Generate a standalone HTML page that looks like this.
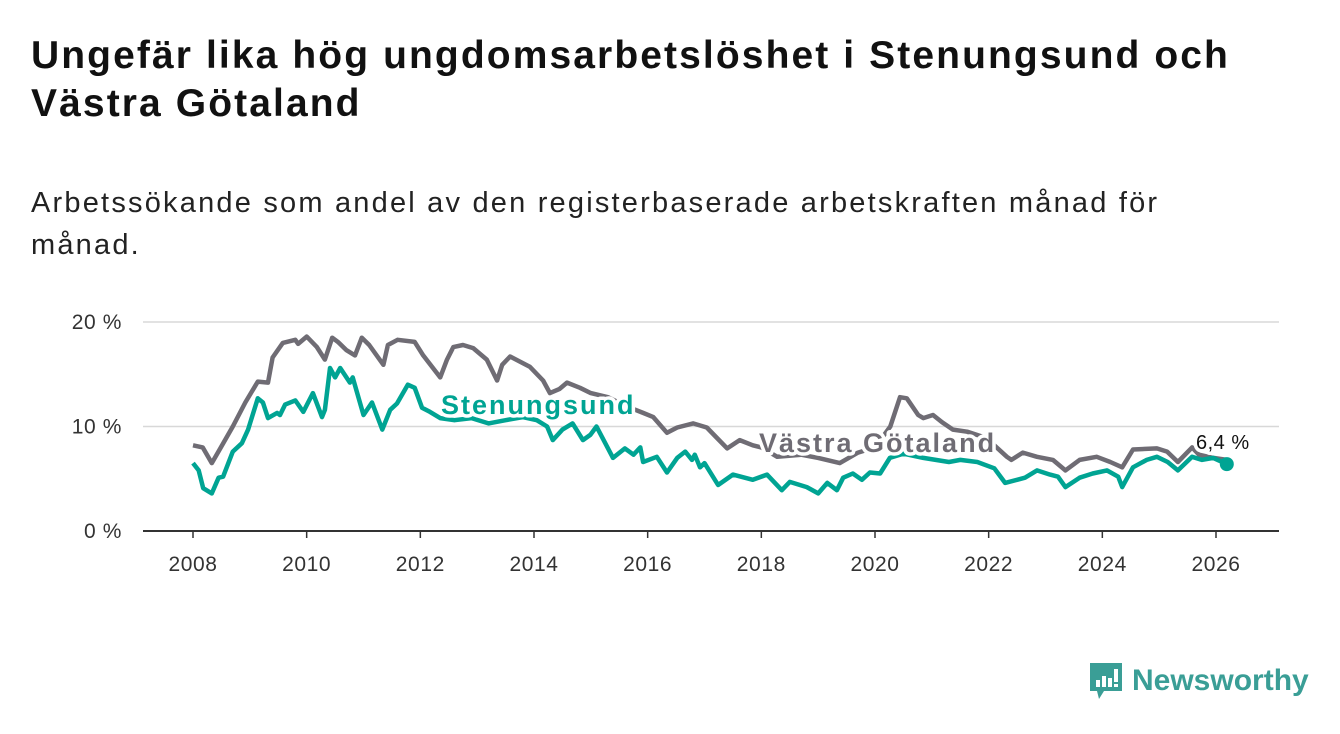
<!DOCTYPE html>
<html><head><meta charset="utf-8">
<style>
body{margin:0;width:1340px;height:734px;background:#fff;font-family:"Liberation Sans","DejaVu Sans",sans-serif;overflow:hidden;position:relative}
#title{position:absolute;left:31px;top:32px;font-size:39px;letter-spacing:2.1px;font-weight:bold;color:#111;line-height:48px;width:1300px;margin:0;white-space:nowrap}
#subtitle{position:absolute;left:31px;top:182px;font-size:29px;letter-spacing:2.2px;color:#222;line-height:42px;width:1300px;margin:0;white-space:nowrap}
svg{position:absolute;left:0;top:0}
#logo{position:absolute;left:1088px;top:661px;display:flex;align-items:center}
#logo span{font-size:30px;font-weight:bold;color:#3a9e96;margin-left:8px}
</style></head><body>
<h1 id="title">Ungefär lika hög ungdomsarbetslöshet i Stenungsund och<br>Västra Götaland</h1>
<p id="subtitle">Arbetssökande som andel av den registerbaserade arbetskraften månad för<br>månad.</p>
<svg id="chart" width="1340" height="734"></svg>
<div id="logo">
<svg width="36" height="40" style="position:static"><path d="M2 2h32v28H16l-5 8-2-8H2z" fill="#3a9e96"/><rect x="8" y="19" width="4" height="7" fill="#fff"/><rect x="14" y="15" width="4" height="11" fill="#fff"/><rect x="20" y="17" width="4" height="9" fill="#fff"/><rect x="26" y="8" width="4" height="13" fill="#fff"/><rect x="26" y="23" width="4" height="3" fill="#fff"/></svg>
<span>Newsworthy</span></div>
<script>
const yTicks=[0,10,20];
const xTicks=[2008,2010,2012,2014,2016,2018,2020,2022,2024,2026];
const vgDates=[2008.0,2008.17,2008.33,2008.48,2008.7,2008.92,2009.14,2009.32,2009.4,2009.58,2009.8,2009.85,2010.0,2010.18,2010.32,2010.45,2010.55,2010.7,2010.85,2010.97,2011.1,2011.35,2011.43,2011.6,2011.9,2012.05,2012.35,2012.47,2012.58,2012.75,2012.93,2013.17,2013.35,2013.44,2013.58,2013.93,2014.16,2014.28,2014.45,2014.58,2014.81,2015.0,2015.3,2015.6,2015.92,2016.1,2016.34,2016.52,2016.8,2017.04,2017.22,2017.4,2017.62,2017.85,2018.0,2018.28,2018.7,2019.0,2019.38,2019.7,2020.0,2020.27,2020.44,2020.56,2020.76,2020.85,2021.02,2021.18,2021.37,2021.62,2021.9,2022.1,2022.32,2022.4,2022.6,2022.85,2023.13,2023.35,2023.6,2023.9,2024.14,2024.35,2024.54,2024.96,2025.14,2025.33,2025.58,2025.7,2025.95,2026.19];
const vgValues=[8.2,8.0,6.5,7.9,10.0,12.3,14.3,14.2,16.6,18.0,18.3,17.9,18.6,17.6,16.4,18.5,18.1,17.3,16.8,18.5,17.8,15.9,17.8,18.3,18.1,16.8,14.7,16.4,17.6,17.8,17.5,16.4,14.4,15.9,16.7,15.7,14.4,13.2,13.6,14.2,13.7,13.2,12.8,12.0,11.3,10.9,9.4,9.9,10.3,9.9,8.9,7.9,8.7,8.2,8.0,7.1,7.3,7.0,6.5,7.5,8.0,10.0,12.8,12.7,11.1,10.8,11.1,10.4,9.7,9.5,9.0,8.2,7.1,6.8,7.5,7.1,6.8,5.8,6.8,7.1,6.6,6.1,7.8,7.9,7.6,6.6,8.0,7.3,7.0,6.8];
const stDates=[2008.0,2008.1,2008.18,2008.33,2008.45,2008.53,2008.7,2008.86,2008.97,2009.14,2009.23,2009.32,2009.48,2009.53,2009.62,2009.8,2009.94,2010.11,2010.27,2010.32,2010.41,2010.5,2010.59,2010.76,2010.81,2011.0,2011.15,2011.33,2011.47,2011.59,2011.78,2011.9,2012.03,2012.17,2012.35,2012.6,2012.9,2013.2,2013.5,2013.8,2014.05,2014.23,2014.33,2014.5,2014.68,2014.86,2014.99,2015.1,2015.39,2015.6,2015.75,2015.87,2015.92,2016.16,2016.34,2016.52,2016.66,2016.78,2016.83,2016.92,2017.0,2017.24,2017.5,2017.85,2018.1,2018.36,2018.5,2018.8,2019.0,2019.16,2019.33,2019.44,2019.61,2019.77,2019.91,2020.09,2020.26,2020.5,2020.85,2021.3,2021.5,2021.8,2022.1,2022.29,2022.5,2022.64,2022.85,2023.08,2023.22,2023.35,2023.6,2023.83,2024.08,2024.28,2024.35,2024.54,2024.78,2024.96,2025.15,2025.33,2025.58,2025.75,2025.95,2026.19];
const stValues=[6.5,5.8,4.1,3.6,5.1,5.2,7.6,8.4,9.7,12.7,12.3,10.8,11.3,11.1,12.1,12.5,11.4,13.2,10.9,11.6,15.6,14.7,15.6,14.2,14.7,11.1,12.3,9.7,11.6,12.2,14.0,13.7,11.8,11.4,10.8,10.6,10.8,10.3,10.6,10.9,10.6,10.0,8.7,9.7,10.3,8.7,9.2,10.0,7.0,7.9,7.3,8.0,6.6,7.1,5.6,7.0,7.6,6.8,7.3,6.1,6.5,4.4,5.4,4.9,5.4,3.9,4.7,4.2,3.6,4.6,3.9,5.1,5.5,4.9,5.6,5.5,7.0,7.4,7.0,6.6,6.8,6.6,6.0,4.6,4.9,5.1,5.8,5.4,5.2,4.2,5.1,5.5,5.8,5.2,4.2,6.1,6.8,7.1,6.6,5.8,7.1,6.8,7.0,6.4];
const NS='http://www.w3.org/2000/svg';
const svg=document.getElementById('chart');
const X=v=>193+(v-2008)*(1216-193)/18;
const Y=v=>531-v*10.45;
function el(t,a){const e=document.createElementNS(NS,t);for(const k in a)e.setAttribute(k,a[k]);svg.appendChild(e);return e;}
yTicks.forEach(t=>{
 if(t>0){const g=el('line',{x1:143,x2:1279,y1:Y(t),y2:Y(t),stroke:'#d8d8d8','stroke-width':1.5});
 
 }
 const l=el('text',{x:122,y:Y(t)+7,'text-anchor':'end','font-size':21,'letter-spacing':0.6,fill:'#333'});l.textContent=t+' %';
 
 
});
const ax=el('line',{x1:143,x2:1279,y1:531,y2:531,stroke:'#333','stroke-width':2});


xTicks.forEach(t=>{
 const tk=el('line',{x1:X(t),x2:X(t),y1:531,y2:538,stroke:'#333','stroke-width':1.5});
 
 
 const l=el('text',{x:X(t),y:571,'text-anchor':'middle','font-size':21,'letter-spacing':0.6,fill:'#333'});l.textContent=t;
 
 
});
function line(d,v,c,n){const p=el('path',{d:d.map((x,i)=>(i?'L':'M')+X(x).toFixed(1)+' '+Y(v[i]).toFixed(1)).join(''),fill:'none',stroke:c,'stroke-width':4.5,'stroke-linejoin':'round'});
 
 }
line(vgDates,vgValues,'#6f6c74','line-vastra-gotaland');
line(stDates,stValues,'#00a493','line-stenungsund');
function lab(x,y,t,c,n,w,s,ls){const e=el('text',{x:x,y:y,'font-size':s,'font-weight':w,'letter-spacing':ls,fill:c,stroke:'#fff','stroke-width':7,'paint-order':'stroke','stroke-linejoin':'round'});e.textContent=t;
 
 }
lab(441,414,'Stenungsund','#00a493','label-stenungsund','bold',27,2);
lab(759,452,'Västra Götaland','#6f6c74','label-vastra-gotaland','bold',27,2);
const li=stDates.length-1;
const dot=el('circle',{cx:X(stDates[li]),cy:Y(stValues[li]),r:7,fill:'#00a493'});


lab(1196,449,'6,4 %','#111','end-value-label','normal',20,0.5);
</script>
</body></html>
